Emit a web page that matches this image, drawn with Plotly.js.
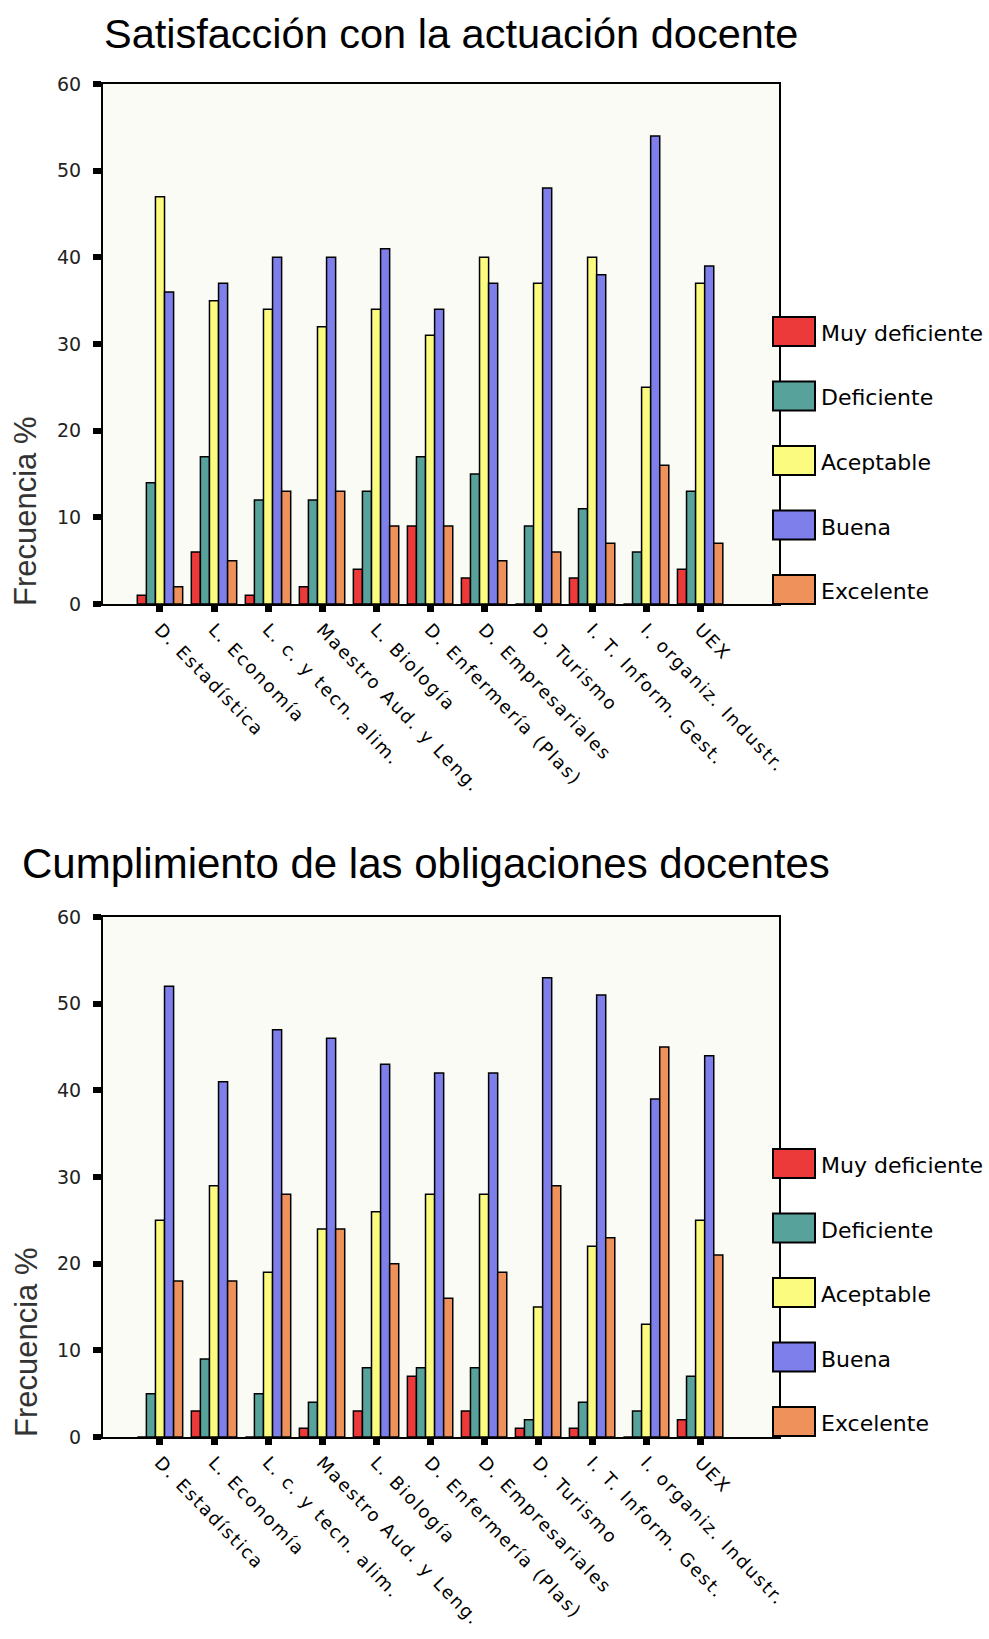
<!DOCTYPE html>
<html>
<head>
<meta charset="utf-8">
<script src="https://cdn.plot.ly/plotly-3.0.1.min.js"></script>
<style>
html,body{margin:0;padding:0;background:#ffffff;}
#chart{width:989px;height:1639px;}
#chart .xtick text, #chart .x2tick text{letter-spacing:1.8px;}
</style>
</head>
<body>
<div id="chart"></div>
<script>
// ---------- DATA ----------
const categories = [
  "D. Estadística", "L. Economía", "L. c. y tecn. alim.", "Maestro Aud. y Leng.",
  "L. Biología", "D. Enfermería (Plas)", "D. Empresariales", "D. Turismo",
  "I. T. Inform. Gest.", "I. organiz. Industr.", "UEX"
];
const seriesNames = ["Muy deficiente", "Deficiente", "Aceptable", "Buena", "Excelente"];

const titleSatisfaccion = "Satisfacción con la actuación docente";
const titleCumplimiento = "Cumplimiento de las obligaciones docentes";
const yAxisTitle = "Frecuencia %";
const yTickValues = [0, 10, 20, 30, 40, 50, 60];

// Satisfacción con la actuación docente (%)
const satMuyDeficiente = [1, 6, 1, 2, 4, 9, 3, 0, 3, 0, 4];
const satDeficiente    = [14, 17, 12, 12, 13, 17, 15, 9, 11, 6, 13];
const satAceptable     = [47, 35, 34, 32, 34, 31, 40, 37, 40, 25, 37];
const satBuena         = [36, 37, 40, 40, 41, 34, 37, 48, 38, 54, 39];
const satExcelente     = [2, 5, 13, 13, 9, 9, 5, 6, 7, 16, 7];

// Cumplimiento de las obligaciones docentes (%)
const cumMuyDeficiente = [0, 3, 0, 1, 3, 7, 3, 1, 1, 0, 2];
const cumDeficiente    = [5, 9, 5, 4, 8, 8, 8, 2, 4, 3, 7];
const cumAceptable     = [25, 29, 19, 24, 26, 28, 28, 15, 22, 13, 25];
const cumBuena         = [52, 41, 47, 46, 43, 42, 42, 53, 51, 39, 44];
const cumExcelente     = [18, 18, 28, 24, 20, 16, 19, 29, 23, 45, 21];

// ---------- STYLE ----------
const colors = ["#ec3a3a", "#58a29c", "#fbfb80", "#7f7fec", "#ef915a"];
const W = 989, H = 1639;
const px = v => v / W;          // x pixel -> paper
const py = v => 1 - v / H;      // y pixel (from top) -> paper

const satData = [satMuyDeficiente, satDeficiente, satAceptable, satBuena, satExcelente];
const cumData = [cumMuyDeficiente, cumDeficiente, cumAceptable, cumBuena, cumExcelente];

const traces = [];
seriesNames.forEach((name, i) => {
  traces.push({
    type: "bar", name: name, x: categories, y: satData[i],
    xaxis: "x", yaxis: "y", showlegend: false,
    marker: {color: colors[i], line: {color: "#000000", width: 1.5}},
    hoverinfo: "x+y+name"
  });
});
seriesNames.forEach((name, i) => {
  traces.push({
    type: "bar", name: name, x: categories, y: cumData[i],
    xaxis: "x2", yaxis: "y2", showlegend: false,
    marker: {color: colors[i], line: {color: "#000000", width: 1.5}},
    hoverinfo: "x+y+name"
  });
});

function xAxis(anchor, domain) {
  return {
    anchor: anchor, domain: domain, type: "category",
    range: [-1.055, 11.46],
    showline: true, linecolor: "#000", linewidth: 2, mirror: true,
    showgrid: false, zeroline: false,
    ticks: "outside", ticklen: 6, tickwidth: 7, tickcolor: "#000",
    tickangle: 46,
    tickfont: {family: "DejaVu Sans", size: 18, color: "#000"},
    automargin: false, fixedrange: true
  };
}
function yAxis(anchor, domain) {
  return {
    anchor: anchor, domain: domain, range: [0, 60],
    tickvals: yTickValues, ticktext: yTickValues.map(String),
    showline: true, linecolor: "#000", linewidth: 2, mirror: true,
    showgrid: false, zeroline: false,
    ticks: "outside", ticklen: 8, tickwidth: 6, tickcolor: "#000",
    ticklabelstandoff: 8,
    tickfont: {family: "DejaVu Sans", size: 19, color: "#222"},
    automargin: false, fixedrange: true
  };
}

const plotLeft = 103, plotRight = 779;
const layout = {
  width: W, height: H,
  margin: {l: 0, r: 0, t: 0, b: 0, pad: 0},
  paper_bgcolor: "#ffffff",
  plot_bgcolor: "#fbfbf5",
  barmode: "group", bargap: 0.16, bargroupgap: 0,
  showlegend: false,
  xaxis: xAxis("y", [px(plotLeft), px(plotRight)]),
  yaxis: yAxis("x", [py(604), py(84)]),
  xaxis2: xAxis("y2", [px(plotLeft), px(plotRight)]),
  yaxis2: yAxis("x2", [py(1437), py(917)]),
  shapes: [],
  annotations: []
};

// titles
layout.annotations.push({
  text: titleSatisfaccion, xref: "paper", yref: "paper",
  x: px(451), y: py(34), xanchor: "center", yanchor: "middle", showarrow: false,
  font: {family: "Liberation Sans", size: 41.5, color: "#000"}
});
layout.annotations.push({
  text: titleCumplimiento, xref: "paper", yref: "paper",
  x: px(426), y: py(864), xanchor: "center", yanchor: "middle", showarrow: false,
  font: {family: "Liberation Sans", size: 42, color: "#000"}
});
// y-axis titles
[511, 1342].forEach(yc => {
  layout.annotations.push({
    text: yAxisTitle, xref: "paper", yref: "paper",
    x: px(26), y: py(yc), xanchor: "center", yanchor: "middle", showarrow: false,
    textangle: -90,
    font: {family: "Liberation Sans", size: 31, color: "#333"}
  });
});

// custom legends (large swatches like the original)
function addLegend(topPx, step) {
  const boxH = 29, boxX0 = 773, boxX1 = 815;
  seriesNames.forEach((name, i) => {
    const y0 = topPx + i * step;
    layout.shapes.push({
      type: "rect", xref: "paper", yref: "paper",
      x0: px(boxX0), x1: px(boxX1), y0: py(y0), y1: py(y0 + boxH),
      fillcolor: colors[i], line: {color: "#000", width: 2}
    });
    layout.annotations.push({
      text: name, xref: "paper", yref: "paper",
      x: px(819), y: py(y0 + boxH / 2 + 2), xanchor: "left", yanchor: "middle",
      showarrow: false,
      font: {family: "DejaVu Sans", size: 22, color: "#000"}
    });
  });
}
addLegend(317, 64.5);
addLegend(1149, 64.5);

Plotly.newPlot("chart", traces, layout, {displayModeBar: false, responsive: false});
</script>
</body>
</html>
